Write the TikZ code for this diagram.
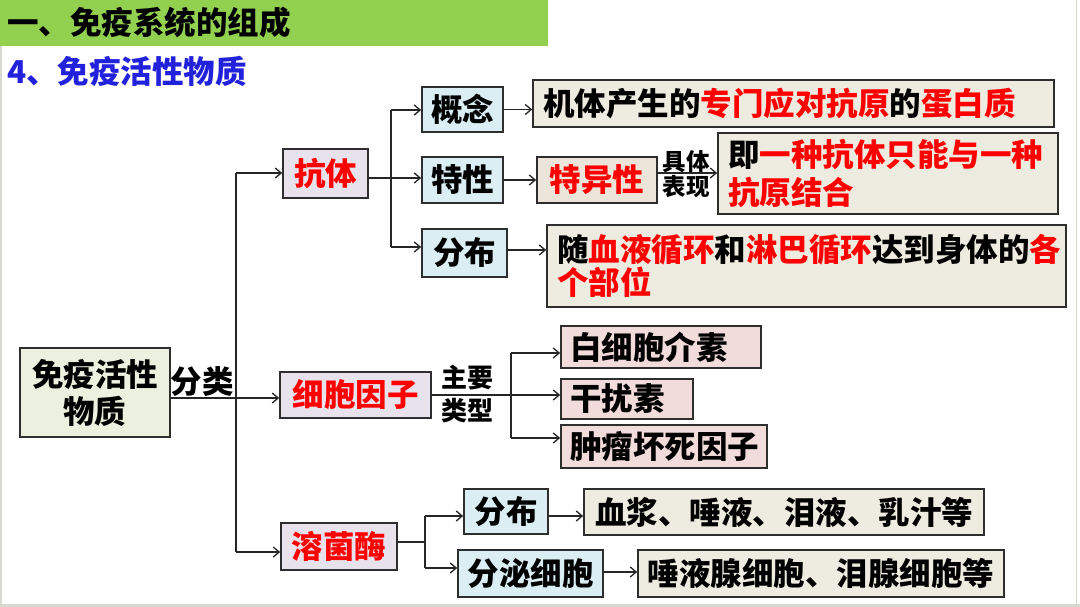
\documentclass[tikz,border=0pt]{standalone}
\usepackage{fontspec}
\setmainfont{Noto Sans CJK SC}
\usetikzlibrary{arrows.meta}
\definecolor{titlegreen}{HTML}{92D050}
\definecolor{subblue}{RGB}{34,34,221}
\definecolor{hired}{HTML}{FF0000}
\definecolor{lbfill}{HTML}{DAEEF3}
\definecolor{rootfill}{HTML}{EBF1DE}
\definecolor{catfill}{HTML}{E7E2EB}
\definecolor{beige}{HTML}{EEECE1}
\definecolor{tanfill}{HTML}{EDE4DA}
\definecolor{pinkfill}{HTML}{F2DCDB}
\definecolor{boxborder}{HTML}{2E2E2E}
\definecolor{framegray}{HTML}{D6D9CF}
\newcommand{\rd}[1]{{\color{hired}#1}}
\begin{document}
\begin{tikzpicture}[x=1pt,y=-1pt,
  box/.style={draw=boxborder, line width=1.6pt, inner ysep=0pt, inner xsep=0pt,
    font=\bfseries\fontsize{31.5}{37}\selectfont, anchor=center},
  lbox/.style={box, align=left, inner xsep=10pt},
  conn/.style={line width=1.3pt, draw=black!85},
  arr/.style={conn, -{Straight Barb[length=6pt,width=10pt]}},
  lbl/.style={inner sep=0pt, font=\bfseries\fontsize{31.5}{37}\selectfont}
]
\useasboundingbox (0,0) rectangle (1080,607);
\fill[white] (0,0) rectangle (1080,607);
% frame
\fill[framegray] (0,603.5) rectangle (1080,607);
\draw[framegray, line width=1.5pt] (1,0) -- (1,604);
\draw[framegray, line width=1.5pt] (1076.5,0) -- (1076.5,604);
% title
\fill[titlegreen] (0,0) rectangle (548,46);
\node[lbl, anchor=west] (title) at (7,23) {一、免疫系统的组成};
\node[lbl, anchor=west, text=subblue] (sub) at (7,71) {4、免疫活性物质};

% root and categories
\node[box, fill=rootfill, align=center, minimum width=150pt, minimum height=89pt] (root) at (95,392.5) {免疫活性\\物质};
\node[box, fill=catfill, text=hired, minimum width=85pt, minimum height=49pt] (kt) at (325.5,173.5) {抗体};
\node[box, fill=catfill, text=hired, minimum width=151pt, minimum height=46pt] (xb) at (355.5,395) {细胞因子};
\node[box, fill=catfill, text=hired, minimum width=116pt, minimum height=47pt] (rj) at (339,546.5) {溶菌酶};
\node[lbl] (fl) at (202,382) {分类};

% antibody branch
\node[box, fill=lbfill, minimum width=81pt, minimum height=45pt] (gn) at (462.5,109.5) {概念};
\node[box, fill=lbfill, minimum width=81pt, minimum height=46pt] (tx) at (462.5,180) {特性};
\node[box, fill=lbfill, minimum width=85pt, minimum height=48pt] (fb1) at (464.5,253) {分布};
\node[lbox, fill=beige, text width=501pt, minimum height=47pt] (d1) at (793.5,103.5) {机体产生的\rd{专门应对抗原}的\rd{蛋白质}};
\node[box, fill=tanfill, text=hired, minimum width=120pt, minimum height=46pt] (tyx) at (597,180) {特异性};
\node[lbox, fill=beige, text width=320pt, minimum height=81pt, font=\bfseries\fontsize{31.5}{38}\selectfont] (d2) at (888,173.5) {即\rd{一种抗体只能与一种}\\\rd{抗原结合}};
\node[lbox, fill=beige, text width=499pt, minimum height=82pt, font=\bfseries\fontsize{31.5}{33}\selectfont] (d3) at (806.5,266) {随\rd{血液循环}和\rd{淋巴循环}达到身体的\rd{各}\\\rd{个部位}};
\node[inner sep=0pt, align=center, font=\bfseries\fontsize{23.5}{25}\selectfont] (jt) at (686,174) {具体\\表现};

% cytokine branch
\node[lbox, fill=pinkfill, inner xsep=9pt, text width=182pt, minimum height=42pt] (bx) at (661,347) {白细胞介素};
\node[lbox, fill=pinkfill, inner xsep=9pt, text width=114pt, minimum height=40pt] (gr) at (627,399) {干扰素};
\node[lbox, fill=pinkfill, inner xsep=9pt, text width=188pt, minimum height=43pt] (zl) at (664,446.5) {肿瘤坏死因子};
\node[inner sep=0pt, align=center, font=\bfseries\fontsize{26}{33}\selectfont] (zy) at (467,394.5) {主要\\类型};

% lysozyme branch
\node[box, fill=lbfill, minimum width=84pt, minimum height=45pt] (fb2) at (506,511.5) {分布};
\node[box, fill=lbfill, minimum width=145pt, minimum height=47pt] (fm) at (530.5,573.5) {分泌细胞};
\node[box, fill=beige, minimum width=400pt, minimum height=46pt] (xj) at (784,512) {血浆、唾液、泪液、乳汁等};
\node[box, fill=beige, minimum width=366pt, minimum height=47pt] (ty) at (821,573.5) {唾液腺细胞、泪腺细胞等};

% coordinates
\coordinate (ttop) at (236,173);
\coordinate (tmid) at (236,398);
\coordinate (tbot) at (236,552);
\coordinate (a1) at (391,110);
\coordinate (a2) at (391,178);
\coordinate (a3) at (391,247);
\coordinate (ja) at (700,173);
\coordinate (fa) at (520,250);
\coordinate (c1) at (511,353);
\coordinate (c2) at (511,395);
\coordinate (c3) at (511,438);
\coordinate (l1) at (425,516);
\coordinate (l2) at (425,542);
\coordinate (l3) at (425,568);
\coordinate (la) at (560,516);
\coordinate (lb) at (620,572);

% main connectors
\draw[conn] (tmid -| root.east) -- (tmid);
\draw[conn] (ttop) -- (tbot);
\draw[arr] (ttop) -- (ttop -| kt.west);
\draw[arr] (tmid) -- (tmid -| xb.west);
\draw[arr] (tbot) -- (tbot -| rj.west);

% antibody connectors
\draw[conn] (a2 -| kt.east) -- (a2);
\draw[conn] (a1) -- (a3);
\draw[arr] (a1) -- (a1 -| gn.west);
\draw[arr] (a2) -- (a2 -| tx.west);
\draw[arr] (a3) -- (a3 -| fb1.west);
\draw[arr] (gn.east) -- (gn.east -| d1.west);
\draw[arr] (tx.east) -- (tx.east -| tyx.west);
\draw[arr] (ja -| tyx.east) -- (ja -| d2.west);
\draw[arr] (fa -| fb1.east) -- (fa -| d3.west);

% cytokine connectors
\draw[conn] (c2 -| xb.east) -- (c2);
\draw[conn] (c1) -- (c3);
\draw[arr] (c1) -- (c1 -| bx.west);
\draw[arr] (c2) -- (c2 -| gr.west);
\draw[arr] (c3) -- (c3 -| zl.west);

% lysozyme connectors
\draw[conn] (l2 -| rj.east) -- (l2);
\draw[conn] (l1) -- (l3);
\draw[arr] (l1) -- (l1 -| fb2.west);
\draw[arr] (l3) -- (l3 -| fm.west);
\draw[arr] (la -| fb2.east) -- (la -| xj.west);
\draw[arr] (lb -| fm.east) -- (lb -| ty.west);
\end{tikzpicture}
\end{document}
